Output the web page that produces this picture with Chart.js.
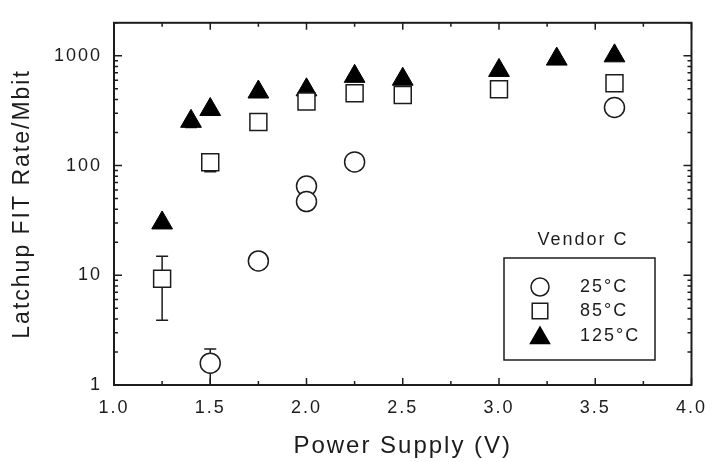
<!DOCTYPE html>
<html>
<head>
<meta charset="utf-8">
<script src="https://cdn.jsdelivr.net/npm/chart.js@4/dist/chart.umd.min.js"></script>
<style>
  html, body { margin: 0; padding: 0; background: #fff; }
  #wrap { width: 716px; height: 462px; }
</style>
</head>
<body>
<div id="wrap"><canvas id="latchupChart"></canvas></div>
<script>
// Vendor C latchup FIT rate vs supply voltage
const x25 = [1.5, 1.75, 2.0, 2.0, 2.25, 3.6];
const y25 = [1.58, 13.5, 65, 47, 108, 338];
const lo25 = [1.0, null, null, null, null, null];
const hi25 = [2.13, null, null, null, null, null];

const x85 = [1.25, 1.5, 1.75, 2.0, 2.25, 2.5, 3.0, 3.6];
const y85 = [9.3, 107, 250, 384, 455, 440, 495, 563];
const lo85 = [3.9, 88, null, null, null, null, null, null];
const hi85 = [14.9, null, null, null, null, null, null, null];

const x125 = [1.25, 1.4, 1.5, 1.75, 2.0, 2.25, 2.5, 3.0, 3.3, 3.6];
const y125 = [30, 253, 324, 468, 490, 650, 612, 736, 934, 1000];
const lo125 = [null, 222, null, null, null, null, null, null, null, null];
const hi125 = [null, null, null, null, null, null, null, null, null, null];

const seriesLabels = ['25\u00B0C', '85\u00B0C', '125\u00B0C'];
const legendTitle = 'Vendor C';
const xTitle = 'Power Supply (V)';
const yTitle = 'Latchup FIT Rate/Mbit';
const yTickValues = [1, 10, 100, 1000];

const FONT = "'Liberation Sans', Arial, Helvetica, sans-serif";
const INK = '#1c1c1c';

function toPoints(xs, ys) {
  return xs.map((x, i) => ({ x: x, y: ys[i] }));
}

const errorBars = [
  { lo: lo25, hi: hi25, xs: x25 },
  { lo: lo85, hi: hi85, xs: x85 },
  { lo: lo125, hi: hi125, xs: x125 }
];

// the scanned figure is a bit wide, so space the letters out a little
const spacingPlugin = {
  id: 'spacing',
  beforeDraw(chart) {
    chart.ctx.letterSpacing = '2px';
  }
};

// frame with inward tick marks on all four sides
const framePlugin = {
  id: 'frame',
  beforeDatasetsDraw(chart) {
    const { ctx, chartArea: a } = chart;
    const xs = chart.scales.x;
    const ys = chart.scales.y;
    ctx.save();
    ctx.strokeStyle = INK;
    ctx.lineWidth = 1.5;
    for (let v = 1; v <= 4.0001; v += 0.25) {
      const px = xs.getPixelForValue(v);
      const len = Math.abs(v * 2 - Math.round(v * 2)) < 0.01 ? 7 : 4;
      ctx.beginPath();
      ctx.moveTo(px, a.bottom); ctx.lineTo(px, a.bottom - len);
      ctx.moveTo(px, a.top); ctx.lineTo(px, a.top + len);
      ctx.stroke();
    }
    for (let dec = 1; dec <= 1000; dec *= 10) {
      for (let m = 1; m <= 9; m++) {
        const v = dec * m;
        if (v > ys.max) break;
        const py = ys.getPixelForValue(v);
        const len = m === 1 ? 8 : 4;
        ctx.beginPath();
        ctx.moveTo(a.left, py); ctx.lineTo(a.left + len, py);
        ctx.moveTo(a.right, py); ctx.lineTo(a.right - len, py);
        ctx.stroke();
      }
    }
    ctx.lineWidth = 2;
    ctx.strokeRect(a.left, a.top, a.right - a.left, a.bottom - a.top);
    ctx.restore();

    // error bars, under the markers
    ctx.save();
    ctx.strokeStyle = INK;
    ctx.lineWidth = 1.5;
    errorBars.forEach(eb => {
      eb.xs.forEach((xv, i) => {
        const px = xs.getPixelForValue(xv);
        [eb.lo[i], eb.hi[i]].forEach((ev, k) => {
          if (ev == null) return;
          const base = [y25, y85, y125][errorBars.indexOf(eb)][i];
          const p0 = ys.getPixelForValue(base);
          const p1 = ys.getPixelForValue(ev);
          ctx.beginPath();
          ctx.moveTo(px, p0); ctx.lineTo(px, p1);
          ctx.moveTo(px - 6, p1); ctx.lineTo(px + 6, p1);
          ctx.stroke();
        });
      });
    });
    ctx.restore();
  }
};

function markerAt(ctx, style, r, x, y) {
  if (Chart.helpers && Chart.helpers.drawPoint) {
    Chart.helpers.drawPoint(ctx, { pointStyle: style, radius: r, rotation: 0, borderWidth: ctx.lineWidth }, x, y);
  }
}

// boxed legend with the "Vendor C" caption above it
const legendBoxPlugin = {
  id: 'legendBox',
  afterDraw(chart) {
    const { ctx } = chart;
    ctx.save();
    ctx.letterSpacing = '2px';
    ctx.fillStyle = INK;
    ctx.font = '18px ' + FONT;
    ctx.textAlign = 'center';
    ctx.textBaseline = 'middle';
    ctx.fillText(legendTitle, 583, 240);

    ctx.strokeStyle = INK;
    ctx.lineWidth = 1.5;
    ctx.strokeRect(504, 258, 151, 102);

    const rows = [287, 311, 336];
    chart.data.datasets.forEach((ds, i) => {
      ctx.fillStyle = ds.backgroundColor;
      ctx.strokeStyle = ds.borderColor;
      ctx.lineWidth = 1.5;
      markerAt(ctx, ds.pointStyle, [9, 11, 11][i], 540, rows[i] + (i === 2 ? 2 : 0));
      ctx.fillStyle = INK;
      ctx.textAlign = 'left';
      ctx.fillText(ds.label, 580, rows[i]);
    });
    ctx.restore();
  }
};

new Chart(document.getElementById('latchupChart'), {
  type: 'scatter',
  data: {
    datasets: [
      {
        label: seriesLabels[0],
        data: toPoints(x25, y25),
        pointStyle: 'circle',
        pointRadius: 10,
        borderWidth: 1.5,
        borderColor: INK,
        backgroundColor: '#ffffff'
      },
      {
        label: seriesLabels[1],
        data: toPoints(x85, y85),
        pointStyle: 'rect',
        pointRadius: 12,
        borderWidth: 1.5,
        borderColor: INK,
        backgroundColor: '#ffffff'
      },
      {
        label: seriesLabels[2],
        data: toPoints(x125, y125),
        pointStyle: 'triangle',
        pointRadius: 12,
        borderWidth: 1,
        borderColor: '#000000',
        backgroundColor: '#000000'
      }
    ]
  },
  options: {
    responsive: true,
    maintainAspectRatio: false,
    animation: false,
    events: [],
    layout: { padding: { top: 14, right: 18, left: 0, bottom: 0 } },
    plugins: {
      legend: { display: false },
      tooltip: { enabled: false }
    },
    scales: {
      x: {
        type: 'linear',
        min: 1,
        max: 4,
        grid: { display: false, drawTicks: false },
        border: { display: false },
        ticks: {
          stepSize: 0.5,
          autoSkip: false,
          maxRotation: 0,
          padding: 12,
          color: INK,
          font: { family: FONT, size: 18 },
          callback: v => v.toFixed(1)
        },
        title: {
          display: true,
          text: xTitle,
          color: INK,
          font: { family: FONT, size: 24 },
          padding: { top: 0, bottom: 1 }
        },
        afterFit: s => { s.height = 77; }
      },
      y: {
        type: 'logarithmic',
        min: 1,
        max: 2000,
        grid: { display: false, drawTicks: false },
        border: { display: false },
        afterBuildTicks: s => { s.ticks = yTickValues.map(v => ({ value: v })); },
        ticks: {
          padding: 12,
          color: INK,
          font: { family: FONT, size: 18 },
          callback: v => String(v)
        },
        title: {
          display: true,
          text: yTitle,
          color: INK,
          font: { family: FONT, size: 23 },
          padding: { top: 9, bottom: 0 }
        },
        afterFit: s => { s.width = 114; }
      }
    }
  },
  plugins: [spacingPlugin, framePlugin, legendBoxPlugin]
});
</script>
</body>
</html>
